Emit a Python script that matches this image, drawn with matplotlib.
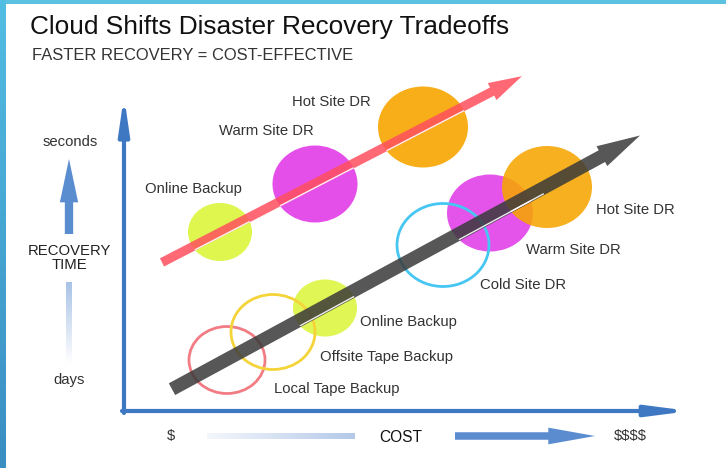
import numpy as np
import matplotlib
matplotlib.use('Agg')
import matplotlib.pyplot as plt
from matplotlib.patches import Ellipse, FancyArrowPatch, Rectangle
from matplotlib.colors import LinearSegmentedColormap

plt.rcParams['font.family'] = ['Liberation Sans', 'DejaVu Sans']
plt.rcParams['text.parse_math'] = False

# diagram data: centre of each option (cost, recovery), in picture units
cloud_names = ['Online Backup', 'Warm Site DR', 'Hot Site DR']
cloud_cost = [220, 315, 423]
cloud_recovery = [232, 184, 127]
cloud_w = [64, 85, 90]
cloud_h = [58, 77, 81]

trad_names = ['Local Tape Backup', 'Offsite Tape Backup', 'Online Backup',
              'Cold Site DR', 'Warm Site DR', 'Hot Site DR']
trad_cost = [227, 273, 325, 443, 490, 547]
trad_recovery = [360, 332, 308, 245, 213, 187]
trad_w = [76, 84, 64, 92, 86, 90]
trad_h = [67, 75, 57, 83, 77, 82]

title = 'Cloud Shifts Disaster Recovery Tradeoffs'
subtitle = 'FASTER RECOVERY = COST-EFFECTIVE'

# styles
cloud_fill = ['#dcf53c', '#e23ce8', '#f7a500']
trad_style = [('ring', '#f27c84'), ('ring', '#f5d43a'), ('fill', '#dcf53c'),
              ('ring', '#46c6f2'), ('fill', '#e23ce8'), ('fill', '#f7a500')]
cloud_lbl = [(-75, -43, 'left'), (-96, -53, 'left'), (-131, -25, 'left')]
trad_lbl = [(47, 29, 'left'), (47, 25, 'left'), (35, 14, 'left'),
            (37, 40, 'left'), (36, 37, 'left'), (49, 23, 'left')]
txt = '#333333'
axis_blue = '#3f78c2'
lbl_size = 10.7

fig = plt.figure(figsize=(7.26, 4.68), dpi=100)
ax = fig.add_axes([0, 0, 1, 1])
ax.axis('off')

# frame bands
top = fig.add_axes([0, 1 - 4 / 468, 1, 4 / 468])
top.axis('off')
top.add_patch(Rectangle((0, 0), 1, 1, color='#5bc2e2', transform=top.transAxes))
left = fig.add_axes([0, 0, 6 / 726, 1])
left.axis('off')
grad = np.linspace(0, 1, 100).reshape(-1, 1)
left.imshow(grad, aspect='auto', extent=[0, 1, 0, 1],
            cmap=LinearSegmentedColormap.from_list('b', ['#3a8ec2', '#52bde2']),
            origin='lower')

# titles
ax.text(30, 27, title, fontsize=18.9, color='#111111', va='center', ha='left')
ax.text(32, 56, subtitle, fontsize=11.9, color='#333333', va='center', ha='left')

# main axes
ax.add_patch(FancyArrowPatch((124, 413), (124, 96), arrowstyle='-|>,head_length=1.5,head_width=0.22',
                             mutation_scale=14, lw=3.0, color=axis_blue, shrinkA=0, shrinkB=0))
ax.add_patch(FancyArrowPatch((122, 411), (690, 411), arrowstyle='-|>,head_length=1.7,head_width=0.22',
                             mutation_scale=14, lw=3.0, color=axis_blue, shrinkA=0, shrinkB=0))

# recovery time legend on the left
ax.text(70, 142, 'seconds', fontsize=lbl_size, color=txt, ha='center', va='center')
ax.text(69, 258, 'RECOVERY\nTIME', fontsize=lbl_size, color='#222222', ha='center', va='center',
        linespacing=0.95)
ax.text(69, 380, 'days', fontsize=lbl_size, color=txt, ha='center', va='center')
ax.add_patch(FancyArrowPatch((69, 234), (69, 159), arrowstyle='simple,head_length=2.6,head_width=1.1,tail_width=0.5',
                             mutation_scale=12, color='#5a8cd0', lw=0, shrinkA=0, shrinkB=0))
vgrad = np.linspace(0, 1, 100).reshape(-1, 1)
ax.imshow(vgrad, extent=[66, 72, 364, 282], aspect='auto', origin='lower',
          cmap=LinearSegmentedColormap.from_list('v', ['#ffffff', '#a9c3e6']), zorder=1)

# cost legend at the bottom
ax.text(171, 436, '$', fontsize=lbl_size, color=txt, ha='center', va='center')
ax.text(401, 437, 'COST', fontsize=11.2, color='#111111', ha='center', va='center')
ax.text(630, 436, '$$$$', fontsize=lbl_size, color=txt, ha='center', va='center')
hgrad = np.linspace(0, 1, 100).reshape(1, -1)
ax.imshow(hgrad, extent=[207, 355, 439, 433], aspect='auto',
          cmap=LinearSegmentedColormap.from_list('h', ['#f4f7fc', '#b4c9e8']), zorder=1)
ax.add_patch(FancyArrowPatch((455, 436), (595, 436), arrowstyle='simple,head_length=2.8,head_width=1.0,tail_width=0.45',
                             mutation_scale=12, color='#5b8cd0', lw=0, shrinkA=0, shrinkB=0))

# keep the pixel-like frame after imshow
ax.set_xlim(0, 726)
ax.set_ylim(468, 0)
ax.set_aspect('auto')


def trend(xs, ys, x0, x1):
    k, b = np.polyfit(xs, ys, 1)
    return np.array([x0, k * x0 + b]), np.array([x1, k * x1 + b])


def highlight(p0, p1, off, stop, clips):
    # thin white sheen along the shaft, only seen over the filled discs
    d = (p1 - p0) / np.hypot(*(p1 - p0))
    n = np.array([-d[1], d[0]])
    a = p0 + n * off
    b = p0 + d * stop + n * off
    for c in clips:
        ln, = ax.plot([a[0], b[0]], [a[1], b[1]], color='white', lw=1.0, alpha=0.9,
                      zorder=5, solid_capstyle='butt')
        ln.set_clip_path(c)


# ellipses
trad_discs = []
for i in range(len(trad_names)):
    kind, c = trad_style[i]
    if kind == 'ring':
        e = Ellipse((trad_cost[i], trad_recovery[i]), trad_w[i], trad_h[i],
                    fill=False, ec=c, lw=2.0, zorder=3)
    else:
        e = Ellipse((trad_cost[i], trad_recovery[i]), trad_w[i], trad_h[i],
                    fc=c, ec='none', alpha=0.88, zorder=2)
        trad_discs.append(e)
    ax.add_patch(e)
    dx, dy, ha = trad_lbl[i]
    ax.text(trad_cost[i] + dx, trad_recovery[i] + dy, trad_names[i], fontsize=lbl_size,
            color=txt, ha=ha, va='center')

cloud_discs = []
for i in range(len(cloud_names)):
    e = Ellipse((cloud_cost[i], cloud_recovery[i]), cloud_w[i], cloud_h[i],
                fc=cloud_fill[i], ec='none', alpha=0.9, zorder=2)
    ax.add_patch(e)
    cloud_discs.append(e)
    dx, dy, ha = cloud_lbl[i]
    ax.text(cloud_cost[i] + dx, cloud_recovery[i] + dy, cloud_names[i], fontsize=lbl_size,
            color=txt, ha=ha, va='center')

# trend arrows
p0, p1 = trend(trad_cost, trad_recovery, 172, 640)
ax.add_patch(FancyArrowPatch(p0, p1, arrowstyle='simple,head_length=2.6,head_width=1.35,tail_width=0.8',
                             mutation_scale=12, color='#3a3a3a', alpha=0.85, lw=0,
                             shrinkA=0, shrinkB=0, zorder=4))
highlight(p0, p1, 5.3, 420, trad_discs)
p0, p1 = trend(cloud_cost, cloud_recovery, 162, 522)
ax.add_patch(FancyArrowPatch(p0, p1, arrowstyle='simple,head_length=2.2,head_width=1.25,tail_width=0.6',
                             mutation_scale=11, color='#ff4f5e', alpha=0.85, lw=0,
                             shrinkA=0, shrinkB=0, zorder=4))
highlight(p0, p1, 4.0, 380, cloud_discs)

fig.savefig('out.png', dpi=100, facecolor='white')
